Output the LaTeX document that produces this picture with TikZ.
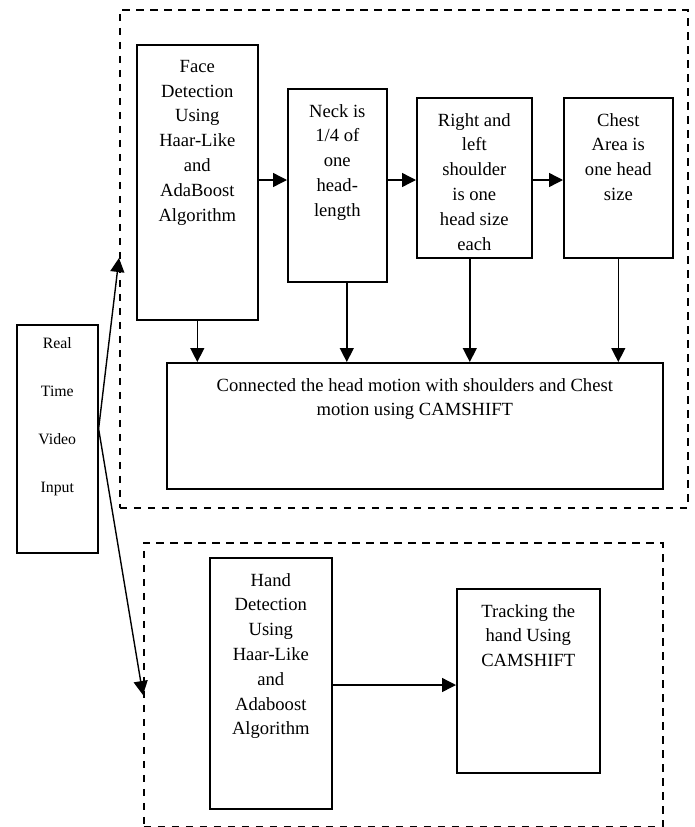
\documentclass[tikz,border=0pt]{standalone}
\usepackage{fontspec}
\setmainfont{Liberation Serif}
\usepackage{tikz}
\usetikzlibrary{arrows.meta}

\begin{document}
\begin{tikzpicture}[x=1pt, y=-1pt,
        box/.style = {draw, line width=1.6pt, inner sep=0pt, anchor=north west},
        frame/.style = {draw, line width=1.5pt, dash pattern=on 7.5pt off 6.5pt, inner sep=0pt, anchor=north west},
        txt/.style = {anchor=north, yshift=-16pt, align=center, inner sep=0pt, font=\fontsize{18.6}{24.8}\selectfont},
        arr/.style = {line width=1.4pt, -{Triangle[length=14pt, width=14pt]}}]
        \useasboundingbox (0,0) rectangle (695,827);

        % Dashed frames (upper part and hand part)
        \node[frame, minimum width=568pt, minimum height=498pt] (upper) at (119,9) {};
        \node[frame, minimum width=519pt, minimum height=284pt] (lower) at (143,542) {};

        % Input
        \node[box, minimum width=81pt, minimum height=228pt,
              label={[txt, yshift=3pt, font=\fontsize{15.8}{48}\selectfont]north:{Real\\Time\\Video\\Input}}] (input) at (16,324) {};

        % Upper row of boxes
        \node[box, minimum width=121pt, minimum height=275pt,
              label={[txt]north:{Face\\Detection\\Using\\Haar-Like\\and\\AdaBoost\\Algorithm}}] (face) at (136,44) {};
        \node[box, minimum width=99pt, minimum height=193pt,
              label={[txt]north:{Neck is\\1/4 of\\one\\head-\\length}}] (neck) at (287,88) {};
        \node[box, minimum width=115pt, minimum height=160pt,
              label={[txt]north:{Right and\\left\\shoulder\\is one\\head size\\each}}] (shoulder) at (416,97) {};
        \node[box, minimum width=109pt, minimum height=160pt,
              label={[txt]north:{Chest\\Area is\\one head\\size}}] (chest) at (563,97) {};

        % Combined motion box
        \node[box, minimum width=496pt, minimum height=126pt,
              label={[txt]north:{Connected the head motion with shoulders and Chest\\motion using CAMSHIFT}}] (conn) at (166,362) {};

        % Hand part
        \node[box, minimum width=122pt, minimum height=251pt,
              label={[txt]north:{Hand\\Detection\\Using\\Haar-Like\\and\\Adaboost\\Algorithm}}] (hand) at (209,557) {};
        \node[box, minimum width=143pt, minimum height=184pt,
              label={[txt]north:{Tracking the\\hand Using\\CAMSHIFT}}] (track) at (456,588) {};

        % Helper points
        \coordinate (row) at (0,180);
        \coordinate (handrow) at (0,685);
        \coordinate (split) at ([yshift=10pt]input.east);
        \coordinate (upin) at (upper.west |- 0,258);
        \coordinate (lowin) at (lower.west |- 0,695);

        % Arrows along the upper row
        \draw[arr] (face.east |- row) -- (neck.west |- row);
        \draw[arr] (neck.east |- row) -- (shoulder.west |- row);
        \draw[arr] (shoulder.east |- row) -- (chest.west |- row);

        % Arrows down to the combined box
        \draw[arr] (face.south) -- (face.south |- conn.north);
        \draw[arr] ([xshift=9.5pt]neck.south) -- ([xshift=9.5pt]neck.south |- conn.north);
        \draw[arr] ([xshift=-4.5pt]shoulder.south) -- ([xshift=-4.5pt]shoulder.south |- conn.north);
        \draw[arr] (chest.south) -- (chest.south |- conn.north);

        % Input to both parts
        \draw[arr] (split) -- (upin);
        \draw[arr] (split) -- (lowin);

        % Hand detection to tracking
        \draw[arr] (hand.east |- handrow) -- (track.west |- handrow);
\end{tikzpicture}
\end{document}
